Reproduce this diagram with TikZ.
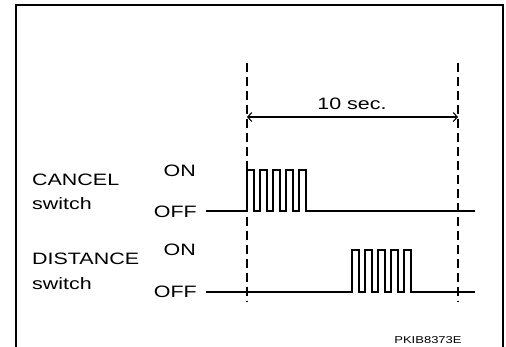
\documentclass[tikz,border=0pt]{standalone}
\usepackage{fontspec}
\setmainfont{Liberation Sans}[FakeStretch=1.3]
\usetikzlibrary{arrows.meta}

\tikzset{
  lbl/.style={font=\fontsize{16.5}{18}\selectfont, inner sep=0pt},
  tiny/.style={font=\fontsize{10}{12}\selectfont, inner sep=0pt},
  guide/.style={line width=1.1pt, dash pattern=on 9pt off 5pt},
  wave/.style={line width=1.3pt},
}

\begin{document}
\begin{tikzpicture}[x=1pt,y=-1pt]
	\useasboundingbox (0,0) rectangle (506,347);

	%Pulse width and gap
	\def\hi{7}
	\def\lo{6}

	%Frame
	\draw[line width=2.8pt] (16,347) -- (16,5) -- (503,5) -- (503,347);

	%Marking coordinates
	\coordinate (T1) at (247,63);
	\coordinate (B1) at (247,302);
	\coordinate (T2) at (458,63);
	\coordinate (B2) at (458,302);
	\coordinate (A1) at (247,117);
	\coordinate (A2) at (458,117);

	%Time window
	\draw[guide] (T1) -- (B1);
	\draw[guide] (T2) -- (B2);
	\draw[line width=1.1pt, {Straight Barb[length=4pt,width=9pt]}-{Straight Barb[length=4pt,width=9pt]}] (A1) -- (A2);
	\node[lbl, anchor=base] (sec) at (352,110) {10 sec.};

	%Labels
	\node[lbl, anchor=base west] (cancel) at (32,186) {CANCEL};
	\node[lbl, anchor=base west] (cancelsw) at (32,210) {switch};
	\node[lbl, anchor=base west] (dist) at (32,265) {DISTANCE};
	\node[lbl, anchor=base west] (distsw) at (32,290) {switch};
	\node[lbl, anchor=base east] (on1) at (196,177) {ON};
	\node[lbl, anchor=base east] (off1) at (197,218) {OFF};
	\node[lbl, anchor=base east] (on2) at (196,256) {ON};
	\node[lbl, anchor=base east] (off2) at (197,298) {OFF};

	%CANCEL switch signal
	\draw[wave] (206,211) -- (247,211)
		\foreach \i in {1,...,5}{ -- ++(0,-41) -- ++(\hi,0) -- ++(0,41) -- ++(\lo,0)}
		-- (475,211);

	%DISTANCE switch signal
	\draw[wave] (206,292) -- (352,292)
		\foreach \i in {1,...,5}{ -- ++(0,-42) -- ++(\hi,0) -- ++(0,42) -- ++(\lo,0)}
		-- (475,292);

	\node[tiny, anchor=base] (code) at (428,344) {PKIB8373E};
\end{tikzpicture}
\end{document}
